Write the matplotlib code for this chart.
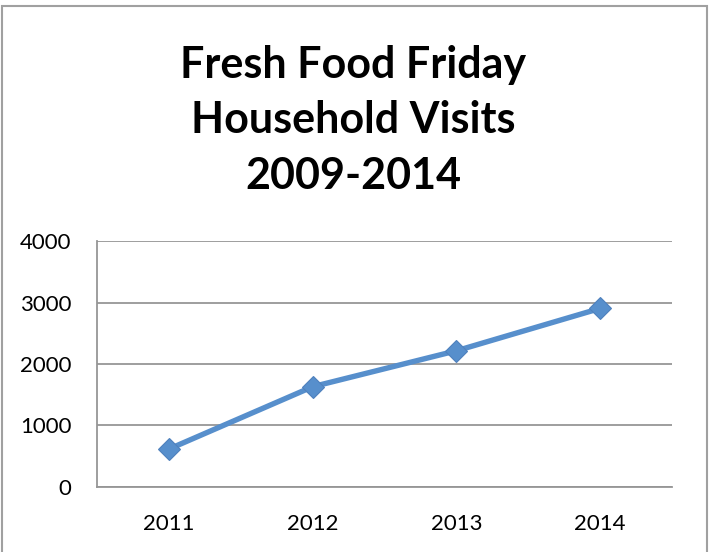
import matplotlib
matplotlib.use("Agg")
import matplotlib.pyplot as plt
from matplotlib.patches import Rectangle

years = ["2011", "2012", "2013", "2014"]
visits = [615, 1630, 2215, 2905]
yticks = [0, 1000, 2000, 3000, 4000]
title_lines = ["Fresh Food Friday", "Household Visits", "2009-2014"]

plt.rcParams['font.family'] = ['Lato', 'DejaVu Sans']

W, H = 713, 552
fig = plt.figure(figsize=(W/100, H/100), dpi=100)
fig.patch.set_facecolor('white')
ax = fig.add_axes([97.3/W, 1 - 486.7/H, (671.7-97.3)/W, (486.7-241.3)/H])

x = list(range(len(years)))
ax.plot(x, visits, color='#578FCC', lw=3.9, marker='D', markersize=11,
        markerfacecolor='#578FCC', markeredgecolor='#4F81BD', markeredgewidth=0.8,
        solid_capstyle='round', zorder=3)

ax.set_xlim(-0.5, len(years) - 0.5)
ax.set_ylim(0, 4000)
ax.set_yticks(yticks)
ax.set_yticklabels([str(v) for v in yticks])
ax.set_xticks(x)
ax.set_xticklabels(years)
ax.tick_params(axis='both', length=0, labelsize=16, labelcolor='black')
ax.tick_params(axis='y', pad=18.7)
ax.tick_params(axis='x', pad=19.5)
ax.grid(axis='y', color='#969696', lw=1.3)
ax.set_axisbelow(True)
for s in ['top', 'right']:
    ax.spines[s].set_visible(False)
for s in ['left', 'bottom']:
    ax.spines[s].set_color('#969696')
    ax.spines[s].set_linewidth(1.3)

baselines = [77.7, 132.7, 189.0]
for line, b in zip(title_lines, baselines):
    fig.text(353/W, 1 - b/H, line, ha='center', va='baseline',
             fontsize=31, fontweight='bold')

fig.patches.append(Rectangle((1.5/W, -0.05), (706.5-1.5)/W, 1.05 - 5.5/H,
                             transform=fig.transFigure, fill=False,
                             edgecolor='#a0a0a0', lw=1.5))

fig.savefig("out.png", dpi=100)
